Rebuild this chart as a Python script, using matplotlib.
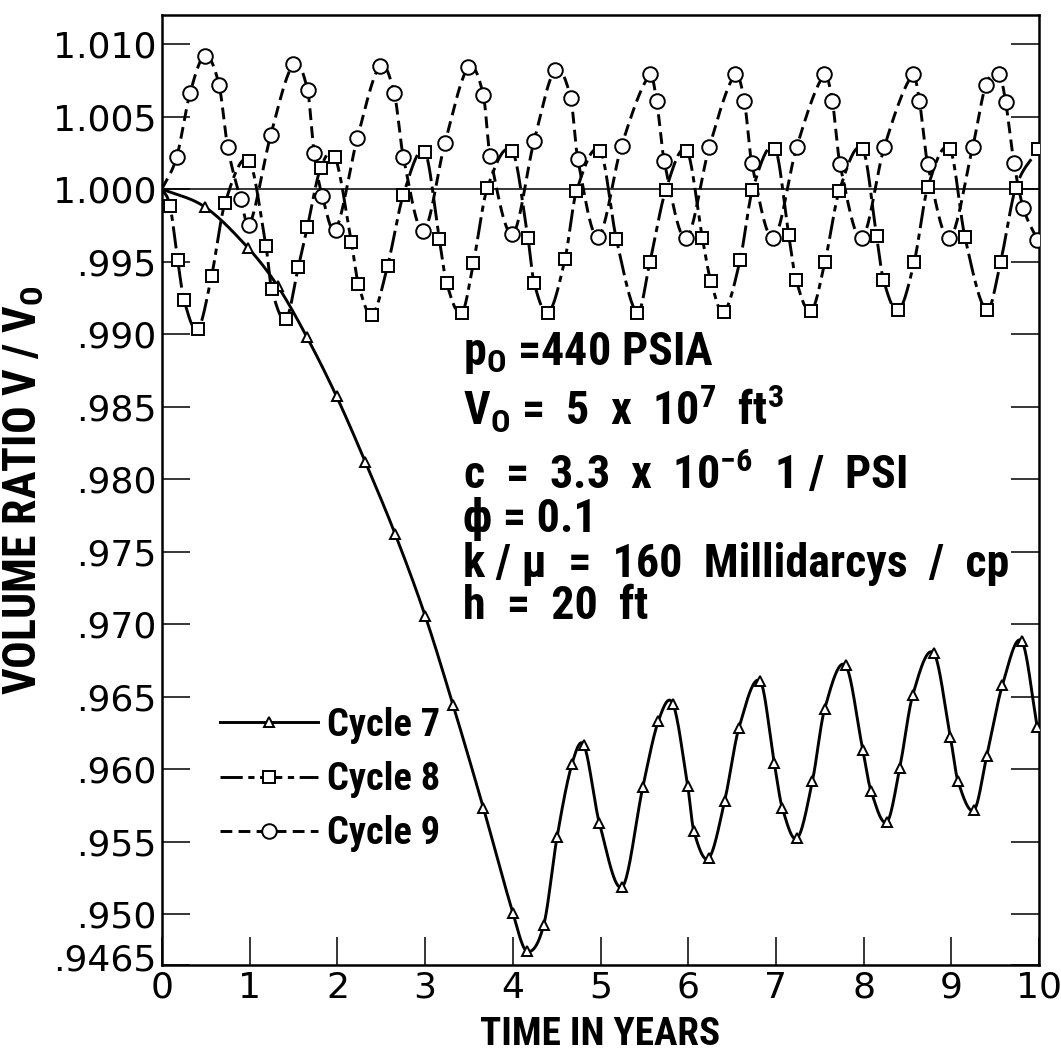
import numpy as np
import matplotlib
matplotlib.use("Agg")
import matplotlib.pyplot as plt
from matplotlib import font_manager as fm
from matplotlib.lines import Line2D
from matplotlib.transforms import ScaledTranslation

# ---------------- data ----------------
c7_x = [0.0, 0.49, 0.985, 1.32, 1.65, 1.99, 2.32, 2.66, 3.00, 3.32, 3.665, 4.00, 4.16,
        4.353, 4.505, 4.674, 4.812, 4.986, 5.248, 5.482, 5.661, 5.826, 5.995, 6.064,
        6.234, 6.417, 6.578, 6.821, 6.982, 7.073, 7.243, 7.417, 7.555, 7.794, 7.991,
        8.083, 8.266, 8.413, 8.56, 8.80, 8.99, 9.075, 9.261, 9.405, 9.583, 9.803, 9.981]
c7_y = [1.0000, 0.99876, 0.99592, 0.9933, 0.98982, 0.98571, 0.98116, 0.97619, 0.97059,
        0.9644, 0.95732, 0.95011, 0.94745, 0.94927, 0.95534, 0.96034, 0.96164, 0.95632,
        0.95189, 0.95875, 0.96334, 0.9645, 0.95882, 0.95573, 0.95386, 0.95784, 0.96284,
        0.96607, 0.96041, 0.95732, 0.95523, 0.9592, 0.96414, 0.96716, 0.96132, 0.95852,
        0.95636, 0.96011, 0.96511, 0.96800, 0.9622, 0.95920, 0.9572, 0.96093, 0.9658,
        0.96883, 0.96289]

c8_x = [0.0, 0.091, 0.179, 0.251, 0.407, 0.566, 0.718, 0.992, 1.186, 1.251, 1.414, 1.554,
        1.657, 1.809, 1.973, 2.160, 2.239, 2.395, 2.573, 2.752, 2.999, 3.162, 3.246, 3.417,
        3.550, 3.709, 3.995, 4.173, 4.242, 4.405, 4.595, 4.725, 4.998, 5.180, 5.42, 5.564,
        5.745, 5.986, 6.161, 6.256, 6.404, 6.591, 6.733, 6.990, 7.147, 7.229, 7.400, 7.560,
        7.723, 7.990, 8.149, 8.225, 8.396, 8.578, 8.731, 8.985, 9.156, 9.403, 9.563, 9.734,
        9.992]
c8_y = [1.0000, 0.99885, 0.99511, 0.99235, 0.99032, 0.99403, 0.99903, 1.00196, 0.99604,
        0.99309, 0.99104, 0.99461, 0.99737, 1.00145, 1.00221, 0.99632, 0.99346, 0.99131,
        0.99472, 0.99961, 1.00253, 0.99654, 0.99350, 0.99143, 0.99488, 1.00007, 1.00260,
        0.99661, 0.99355, 0.99147, 0.99516, 0.99984, 1.00263, 0.99658, 0.99146, 0.99500,
        0.99995, 1.00263, 0.99663, 0.99369, 0.99150, 0.99508, 0.99995, 1.00279, 0.99680,
        0.99376, 0.99156, 0.99500, 0.99989, 1.00275, 0.99674, 0.99376, 0.99163, 0.99500,
        1.00011, 1.00275, 0.99667, 0.99163, 0.99500, 1.00007, 1.00275]

c9_x = [0.0, 0.167, 0.319, 0.490, 0.650, 0.749, 0.897, 0.996, 1.239, 1.498, 1.661, 1.733,
        1.828, 1.980, 2.227, 2.486, 2.649, 2.752, 2.980, 3.227, 3.493, 3.664, 3.740, 3.995,
        4.242, 4.481, 4.660, 4.740, 4.970, 5.241, 5.564, 5.640, 5.727, 5.975, 6.241, 6.534,
        6.640, 6.724, 6.971, 7.237, 7.552, 7.643, 7.731, 7.978, 8.236, 8.560, 8.636, 8.731,
        8.978, 9.244, 9.396, 9.548, 9.620, 9.715, 9.821, 9.981]
c9_y = [1.0000, 1.0022, 1.0066, 1.0092, 1.0072, 1.0029, 0.9993, 0.9975, 1.0037, 1.0086,
        1.0068, 1.0025, 0.9995, 0.9972, 1.0035, 1.0085, 1.0066, 1.0022, 0.9971, 1.0032,
        1.0084, 1.0065, 1.0023, 0.9969, 1.0033, 1.0082, 1.0063, 1.0021, 0.9967, 1.0030,
        1.0079, 1.0061, 1.0019, 0.9966, 1.0029, 1.0079, 1.0061, 1.0018, 0.9966, 1.0029,
        1.0079, 1.0061, 1.0017, 0.9966, 1.0029, 1.0079, 1.0061, 1.0017, 0.9966, 1.0029,
        1.0072, 1.0079, 1.0060, 1.0018, 0.9987, 0.9965]

series_labels = ["Cycle 7", "Cycle 8", "Cycle 9"]
x_ticks = list(range(0, 11))
x_tick_labels = [str(v) for v in x_ticks]
y_ticks = [0.9465, 0.950, 0.955, 0.960, 0.965, 0.970, 0.975, 0.980, 0.985, 0.990, 0.995,
           1.000, 1.005, 1.010]
y_tick_labels = [".9465", ".950", ".955", ".960", ".965", ".970", ".975", ".980", ".985",
                 ".990", ".995", "1.000", "1.005", "1.010"]

annotation_lines = [
    r"p$_\mathregular{O}$ =440 PSIA",
    r"V$_\mathregular{O}$ =  5  x  10$^\mathregular{7}$  ft$^\mathregular{3}$",
    r"c  =  3.3  x  10$^\mathregular{-6}$  1 /  PSI",
    "\u03d5 = 0.1",
    "k / \u03bc  =  160  Millidarcys  /  cp",
    "h  =  20  ft",
]


# ---------------- fonts ----------------
def pick_condensed_bold():
    prefs = ["liberation", "roboto", "dejavu", "noto", "open", "lato"]
    found = []
    for f in fm.fontManager.ttflist:
        low = f.fname.lower()
        if not ("narrow" in low or "condensed" in low):
            continue
        if any(k in low for k in ("extra", "semi", "italic", "oblique", "light", "thin",
                                   "ultra")):
            continue
        w = f.weight if isinstance(f.weight, int) else (700 if "bold" in str(f.weight) else 400)
        if w < 600 or w > 800:
            continue
        rank = next((i for i, p in enumerate(prefs) if p in low), len(prefs))
        found.append((rank, f))
    if found:
        found.sort(key=lambda t: t[0])
        f = found[0][1]
        return f.name, f.weight, f.stretch
    return "Liberation Sans", "bold", "normal"


BFAM, BWEIGHT, BSTRETCH = pick_condensed_bold()
FAMS = [BFAM, "DejaVu Sans"]


def bold_prop(size):
    return fm.FontProperties(family=FAMS, weight=BWEIGHT, stretch=BSTRETCH, size=size)


def smooth(x, y, n=24):
    """Piecewise cubic Hermite curve through the read points (line rendering only)."""
    x = np.asarray(x, float)
    y = np.asarray(y, float)
    m = np.empty_like(y)
    m[1:-1] = (y[2:] - y[:-2]) / (x[2:] - x[:-2])
    m[0] = (y[1] - y[0]) / (x[1] - x[0])
    m[-1] = (y[-1] - y[-2]) / (x[-1] - x[-2])
    xs, ys = [], []
    t = np.linspace(0, 1, n, endpoint=False)
    h00 = 2 * t**3 - 3 * t**2 + 1
    h10 = t**3 - 2 * t**2 + t
    h01 = -2 * t**3 + 3 * t**2
    h11 = t**3 - t**2
    for i in range(len(x) - 1):
        h = x[i + 1] - x[i]
        xs.append(x[i] + t * h)
        ys.append(h00 * y[i] + h10 * h * m[i] + h01 * y[i + 1] + h11 * h * m[i + 1])
    xs.append([x[-1]])
    ys.append([y[-1]])
    return np.concatenate(xs), np.concatenate(ys)


plt.rcParams["lines.scale_dashes"] = False

W, H = 1061, 1052
fig = plt.figure(figsize=(W / 100, H / 100), dpi=100)
ax = fig.add_axes([162 / W, 1 - 965 / H, 877 / W, 950 / H])

ax.set_xlim(0, 10)
ax.set_ylim(0.9465, 1.012)

ax.axhline(1.0, color="black", lw=1.1, zorder=1)

styles = [
    dict(x=c7_x, y=c7_y, marker="^", ms=7.5, ls="-", dashes=None),
    dict(x=c8_x, y=c8_y, marker="s", ms=8.0, ls="--", dashes=(16, 4, 4.5, 4)),
    dict(x=c9_x, y=c9_y, marker="o", ms=10.5, ls="--", dashes=(8.5, 4.5)),
]

handles = []
for st in styles:
    sx, sy = smooth(st["x"], st["y"])
    line, = ax.plot(sx, sy, color="black", lw=2.1, ls=st["ls"], zorder=2,
                    solid_capstyle="butt", dash_capstyle="butt")
    if st["dashes"] is not None:
        line.set_dashes(st["dashes"])
    ax.plot(st["x"][1:], st["y"][1:], ls="none", marker=st["marker"], ms=st["ms"],
            mfc="white", mec="black", mew=1.4, zorder=3)
    h = Line2D([], [], color="black", lw=2.1, ls=st["ls"], marker=st["marker"],
               ms=st["ms"], mfc="white", mec="black", mew=1.4)
    if st["dashes"] is not None:
        h.set_dashes(st["dashes"])
    handles.append(h)

# ticks
ax.set_xticks(x_ticks)
ax.set_xticklabels(x_tick_labels)
ax.set_yticks(y_ticks)
ax.set_yticklabels(y_tick_labels)
ax.tick_params(axis="both", direction="in", length=20, width=1.1, labelsize=26,
               colors="black")
ax.tick_params(axis="y", right=True, left=True, pad=4)
ax.tick_params(axis="x", top=False, pad=4)
for lab in ax.get_xticklabels() + ax.get_yticklabels():
    lab.set_family("DejaVu Sans")
# the bottom .9465 label sits a little above its tick in the original
bottom_lab = ax.get_yticklabels()[0]
bottom_lab.set_transform(bottom_lab.get_transform()
                         + ScaledTranslation(0, 8 / 100, fig.dpi_scale_trans))

for sp in ax.spines.values():
    sp.set_linewidth(1.8)

ax.set_xlabel("TIME IN YEARS", fontproperties=bold_prop(26), labelpad=8)
ax.set_ylabel(r"VOLUME RATIO V / V$_\mathregular{O}$", fontproperties=bold_prop(28))
# right edge of the rotated y label about 46 px from the figure's left edge
ax.yaxis.set_label_coords((46 - 162) / 877, 0.5)

# annotation block (left edge / baselines in pixel-derived data positions)
ann_x = 3.43
ann_base = [0.98786, 0.98372, 0.97929, 0.97632, 0.97328, 0.97038]
ann_texts = []
for yy, txt in zip(ann_base, annotation_lines):
    ann_texts.append(ax.text(ann_x, yy, txt, fontproperties=bold_prop(24),
                             ha="left", va="baseline"))

fig.canvas.draw()
r = fig.canvas.get_renderer()


def scale_to(txt, target, dim="w"):
    bb = txt.get_window_extent(r)
    cur = bb.width if dim == "w" else bb.height
    return txt.get_fontsize() * target / cur


# fit sizes to the widths measured on the original
xl = ax.xaxis.label
xl.set_fontsize(scale_to(xl, 240))
yl = ax.yaxis.label
yl.set_fontsize(scale_to(yl, 410, "h"))
ann_fs = scale_to(ann_texts[4], 548)
for t in ann_texts:
    t.set_fontsize(ann_fs)

# legend
probe = ax.text(0, 0, "Cycle 7", fontproperties=bold_prop(26))
fig.canvas.draw()
leg_fs = scale_to(probe, 113)
probe.remove()
fs_px = leg_fs * 100 / 72


def make_legend(ls, ay):
    return ax.legend(handles, series_labels, loc="upper left",
                     bbox_to_anchor=((220 - 162) / 877, ay), prop=bold_prop(leg_fs),
                     frameon=False, handlelength=98 / fs_px, handletextpad=9 / fs_px,
                     labelspacing=ls, borderpad=0, borderaxespad=0, numpoints=1)


ls, ay = 0.3, 0.29
leg = make_legend(ls, ay)
fig.canvas.draw()
cent = [0.5 * (t.get_window_extent(r).y0 + t.get_window_extent(r).y1) for t in leg.get_texts()]
pitch = (cent[0] - cent[2]) / 2
ls = ls + (54.5 - pitch) / fs_px
leg.remove()
leg = make_legend(ls, ay)
fig.canvas.draw()
t0 = leg.get_texts()[0].get_window_extent(r)
c1 = 0.5 * (t0.y0 + t0.y1)
target_c1 = H - 725
ay = ay + (target_c1 - c1) / 950
leg.remove()
leg = make_legend(ls, ay)

fig.savefig("out.png", dpi=100)
